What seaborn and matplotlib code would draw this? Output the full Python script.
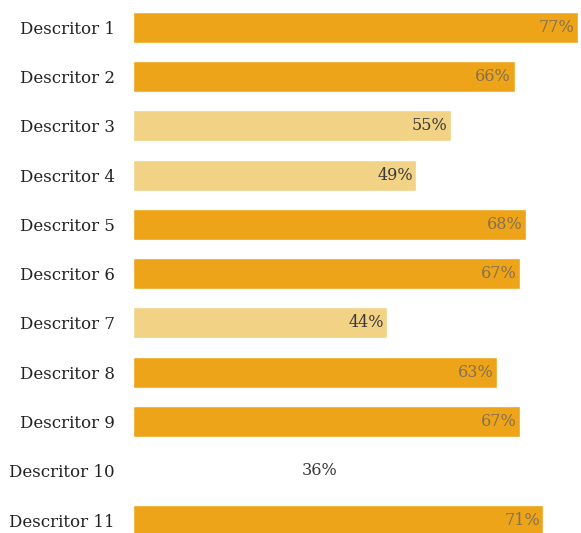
import matplotlib
matplotlib.use("Agg")
import matplotlib.pyplot as plt
import seaborn as sns
import pandas as pd

categories = ["Descritor 1", "Descritor 2", "Descritor 3", "Descritor 4", "Descritor 5",
              "Descritor 6", "Descritor 7", "Descritor 8", "Descritor 9", "Descritor 10",
              "Descritor 11"]
values = [77, 66, 55, 49, 68, 67, 44, 63, 67, 36, 71]
labels = ["77%", "66%", "55%", "49%", "68%", "67%", "44%", "63%", "67%", "36%", "71%"]
kinds = ["dark", "dark", "light", "light", "dark", "dark", "light", "dark", "dark", "none", "dark"]

bar_colors = {"dark": "#EEA418", "light": "#F2D386", "none": "#FFFFFF"}
text_colors = {"dark": "#857050", "light": "#3a3a3a", "none": "#3a3a3a"}

df = pd.DataFrame({"cat": categories, "val": values})

sns.set_style("white")
plt.rcParams["font.family"] = ["DejaVu Serif"]

fig = plt.figure(figsize=(5.81, 5.33), dpi=100)
ax = fig.add_axes([133 / 581, 0, 448 / 581, 1])

palette = [bar_colors[k] for k in kinds]
sns.barplot(data=df, x="val", y="cat", hue="cat", palette=palette, legend=False,
            width=0.63, ax=ax, saturation=1)

ax.set_xlim(0, 77.5)
ax.set_ylim(10.26, -0.55)
ax.set_xlabel("")
ax.set_ylabel("")
ax.set_xticks([])
for s in ax.spines.values():
    s.set_visible(False)
ax.tick_params(axis="y", length=0, pad=13, labelsize=12, labelcolor="#222222")

for i, (v, lab, k) in enumerate(zip(values, labels, kinds)):
    ax.text(v - 0.6, i, lab, ha="right", va="center", fontsize=11.5,
            color=text_colors[k])

fig.savefig("out.png", dpi=100)
